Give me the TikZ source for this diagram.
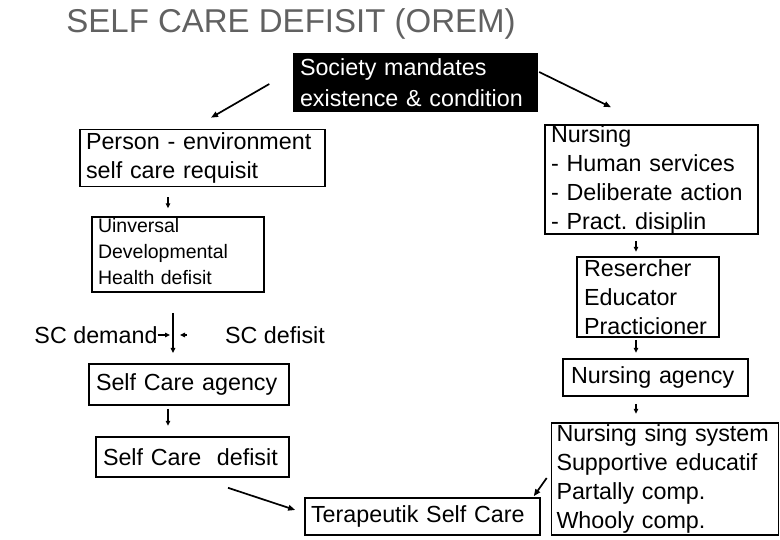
\documentclass[tikz,border=0pt]{standalone}
\usepackage{fontspec}
\setmainfont{Liberation Sans}
\usetikzlibrary{arrows.meta,positioning,calc}
\tikzset{
  boxnd/.style={draw, line width=1.6pt, inner xsep=6pt, inner ysep=0pt, align=left,
    font=\fontsize{23.3}{29}\selectfont},
  smallbox/.style={boxnd, font=\fontsize{19.5}{26}\selectfont},
  blknd/.style={fill=black, text=white, inner xsep=7pt, inner ysep=0pt, align=left,
    font=\fontsize{23.3}{31}\selectfont},
  txtnd/.style={inner sep=0pt, font=\fontsize{23.3}{29}\selectfont},
  arr/.style={-{Triangle[length=7pt,width=5.5pt]}, line width=1.7pt},
  tick/.style={-{Triangle[length=5pt,width=4.5pt]}, line width=1.2pt},
}
\hyphenpenalty=10000
\frenchspacing

\begin{document}
\begin{tikzpicture}[x=1pt, y=-1pt]
  \useasboundingbox (0,0) rectangle (780,540);
  % title
  \node[inner sep=0pt, text=black!62, font=\fontsize{33}{36}\selectfont] (title) at (291,24) {SELF CARE DEFISIT (OREM)};
  % left column
  \node[blknd, minimum width=245pt, minimum height=59pt, text width=231pt] (soc) at (415.5,82.5)
    {Society mandates\\existence \& condition};
  \node[boxnd, minimum width=245pt, minimum height=57pt, text width=233pt] (person) at (202.5,158)
    {Person - environment\\self care requisit};
  \node[smallbox, minimum width=172pt, minimum height=75pt, text width=160pt] (univ) at (178,254.5)
    {Uinversal\\Developmental\\Health defisit\rule[-7pt]{0pt}{1pt}};
  \node[txtnd] (scdem) at (96,335) {SC demand};
  \node[txtnd] (scdef) at (275,335) {SC defisit};
  \coordinate (jn) at (173,335);
  \node[boxnd, minimum width=200pt, minimum height=41pt, text width=186pt, inner xsep=7pt] (scagency) at (189,384.5)
    {Self Care agency};
  \node[boxnd, minimum width=193pt, minimum height=40pt, text width=179pt, inner xsep=7pt] (scdefbox) at (192.5,457)
    {Self Care\ \ defisit};
  \node[boxnd, minimum width=235pt, minimum height=37pt, text width=223pt] (terap) at (422.5,516.5)
    {Terapeutik Self Care};
  % right column
  \node[boxnd, minimum width=213pt, minimum height=109pt, text width=201pt] (nursing) at (651.5,179.5)
    {Nursing\\- Human services\\- Deliberate action\\- Pract. disiplin};
  \node[boxnd, minimum width=142pt, minimum height=80pt, text width=128pt, inner xsep=7pt] (reser) at (648,297)
    {Resercher\\Educator\\Practicioner};
  \node[boxnd, minimum width=185pt, minimum height=37pt, text width=169pt, inner xsep=8pt] (nagency) at (655.5,377.5)
    {Nursing agency};
  \node[boxnd, minimum width=227pt, minimum height=112pt, text width=217pt, inner xsep=5pt] (nsys) at (665,479)
    {Nursing sing system\\Supportive educatif\\Partally comp.\\Whooly comp.};
  % connectors
  \draw[arr] ($(soc.west)+(-23.5,1.5)$) -- ($(person.north)+(8.5,-11)$);
  \draw[arr] ($(soc.east)+(1,-10.5)$) -- ($(nursing.north)+(-40.5,-17)$);
  \draw[tick] ($(person.south)+(-34.5,10)$) -- ($(person.south)+(-34.5,21)$);
  \draw[tick] ($(jn)+(0,-22)$) -- ($(jn)+(0,18)$);
  \draw[tick] (scdem.east) -- ($(jn)+(-3,0)$);
  \draw[tick] ($(jn)+(14,0)$) -- ($(jn)+(7,0)$);
  \draw[tick] ($(scagency.south)+(-21,3)$) -- ($(scagency.south)+(-21,20)$);
  \draw[arr] ($(scdefbox.south)+(35.5,10)$) -- ($(terap.west)+(-9,-6.5)$);
  \draw[tick] ($(nursing.south)+(-15.5,6)$) -- ($(nursing.south)+(-15.5,17)$);
  \draw[tick] ($(reser.south)+(-12,2)$) -- ($(reser.south)+(-12,15)$);
  \draw[tick] ($(nagency.south)+(-19.5,7)$) -- ($(nagency.south)+(-19.5,17)$);
  \draw[arr] ($(nsys.west)+(-4,-1)$) -- ($(terap.north east)+(-7,-1)$);
\end{tikzpicture}
\end{document}
